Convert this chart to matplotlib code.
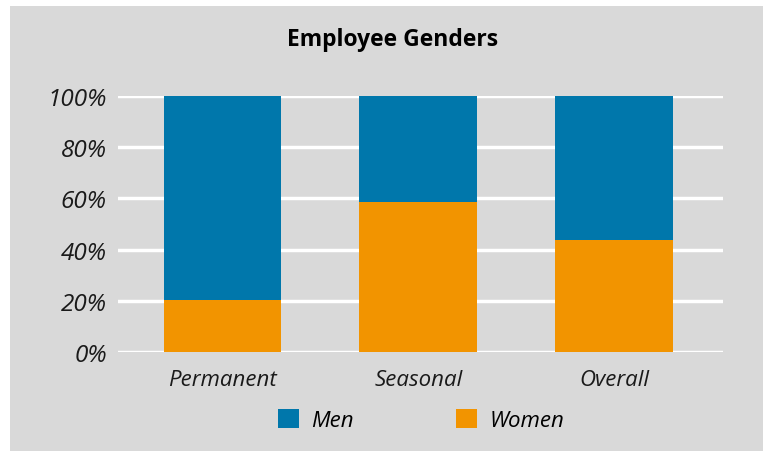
import matplotlib.pyplot as plt
from matplotlib.patches import Rectangle
import numpy as np

# employee share by contract type, in percent
categories = ["Permanent", "Seasonal", "Overall"]
women = [20.3, 58.4, 43.8]
men = [100 - w for w in women]
yticks = [0, 20, 40, 60, 80, 100]

blue = "#0077ab"
orange = "#f29400"
panel = "#d9d9d9"

W, H = 763, 452
fig = plt.figure(figsize=(W / 100, H / 100), dpi=100)
fig.patch.set_facecolor("white")

# gray card behind everything
fig.patches.append(Rectangle((10 / W, 0), 1, 1 - 7 / H, transform=fig.transFigure,
                             facecolor=panel, edgecolor="none", zorder=-10))

ax = fig.add_axes([118 / W, (H - 353) / H, (723 - 118) / W, (353 - 97) / H])
ax.set_facecolor("none")

x = np.arange(len(categories))
ax.bar(x, women, width=0.6, color=orange, label="Women", zorder=3)
ax.bar(x, men, width=0.6, bottom=women, color=blue, label="Men", zorder=3)

ax.set_xlim(-0.533, 2.556)
ax.set_ylim(0, 100)
ax.set_yticks(yticks)
ax.set_yticklabels([f"{t}%" for t in yticks])
ax.set_xticks(x)
ax.set_xticklabels(categories)
for lbl in ax.get_xticklabels():
    lbl.set_fontsize(16)
for lbl in ax.get_yticklabels():
    lbl.set_fontsize(17.5)
for lbl in ax.get_xticklabels() + ax.get_yticklabels():
    lbl.set_fontstyle("italic")
    lbl.set_color("#1a1a1a")
    lbl.set_family("Open Sans")
ax.tick_params(axis="y", length=0, pad=8)
ax.tick_params(axis="x", length=0, pad=12)
ax.yaxis.grid(True, color="white", linewidth=2.5, zorder=1)
ax.set_axisbelow(True)
for s in ax.spines.values():
    s.set_visible(False)

fig.text(393 / W, 1 - 40 / H, "Employee Genders", ha="center", va="center",
         fontsize=16.5, fontweight="bold", family="Open Sans", color="black")

handles, labels = ax.get_legend_handles_labels()
leg = fig.legend(handles[::-1], labels[::-1], loc="center", bbox_to_anchor=(421 / W, 1 - 421 / H),
                 ncol=2, frameon=False, handlelength=0.95, handleheight=0.95,
                 columnspacing=4.6, handletextpad=0.55,
                 prop={"family": "Open Sans", "style": "italic", "size": 16})

fig.savefig("out.png", dpi=100)
